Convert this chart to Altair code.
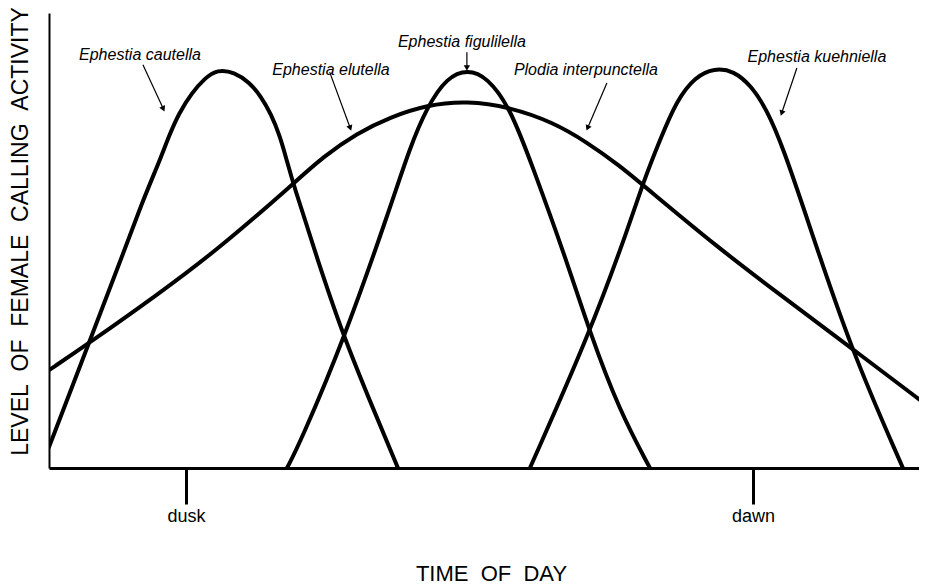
import math
import altair as alt
import pandas as pd

# ---- data (x: time of day, 0-100 scale; y: relative calling level, 0-100) ----
cautella_x = [0, 4.67, 7.74, 10.7, 12.5, 13.67, 14.8, 16.3, 17.7, 19.2, 21.1, 22.8, 24.1, 25.3, 26.3, 27.1, 27.8, 30.6, 33.5, 36.6, 39.75]
cautella_y = [4.6, 28.1, 43.5, 58.9, 67.0, 73.0, 78.0, 82.5, 85.6, 87.6, 87.0, 84.8, 81.8, 77.8, 73.0, 67.5, 62.6, 45.7, 29.2, 14.5, 0]

figulilella_x = [27.11, 28.59, 33.71, 38.84, 41.12, 43.05, 45.33, 47.72, 49.89, 52.51, 55.13, 58.8, 61.62, 65.0, 68.45]
figulilella_y = [0, 5.5, 28.8, 57.1, 70.5, 79.3, 85.9, 87.6, 85.9, 79.3, 66.0, 46.5, 29.7, 12.5, 0]

kuehniella_x = [54.78, 61.62, 66.17, 67.65, 69.59, 71.5, 73.6, 75.8, 78.0, 80.0, 81.78, 83.6, 86.33, 91.23, 97.27]
kuehniella_y = [0, 29.7, 53.8, 62.6, 72.1, 80.8, 86.0, 87.9, 87.3, 84.0, 78.7, 70.5, 55.0, 26.6, 0]

broad_x = [0, 4.67, 12.3, 19.48, 27.79, 31.21, 35.08, 38.84, 43.05, 47.61, 52.51, 57.4, 61.28, 65.03, 67.65, 76.08, 83.6, 91.23, 100]
broad_y = [21.5, 27.6, 38.0, 48.4, 62.4, 68.4, 73.6, 77.1, 79.8, 80.7, 79.3, 76.0, 71.6, 66.4, 62.2, 48.6, 37.6, 26.6, 13.8]

label_text = ["Ephestia cautella", "Ephestia elutella", "Ephestia figulilella",
              "Plodia interpunctella", "Ephestia kuehniella"]
label_x = [10.36, 32.12, 47.04, 61.16, 87.47]
label_y = [90.8, 87.5, 93.6, 87.5, 90.3]

arrow_x1 = [10.7, 31.97, 47.6, 63.55, 85.19]
arrow_y1 = [88.6, 87.0, 91.4, 84.6, 87.9]
arrow_x2 = [12.98, 34.28, 47.6, 61.39, 83.49]
arrow_y2 = [79.1, 74.9, 88.1, 74.9, 78.2]

tick_values = [15.6, 80.2]
tick_labels = ["dusk", "dawn"]

# ---- layout ----
W, H = 870, 455
XMAX = 99.1
YMAX = 100

rows = []
for name, xs, ys in [("cautella", cautella_x, cautella_y),
                     ("figulilella", figulilella_x, figulilella_y),
                     ("kuehniella", kuehniella_x, kuehniella_y),
                     ("elutella/interpunctella", broad_x, broad_y)]:
    for i, (x, y) in enumerate(zip(xs, ys)):
        rows.append({"series": name, "x": x, "y": y, "order": i})
curves = pd.DataFrame(rows)

labels = pd.DataFrame({"text": label_text, "x": label_x, "y": label_y})

pxx = W / XMAX
pxy = H / YMAX
angles = []
for x1, y1, x2, y2 in zip(arrow_x1, arrow_y1, arrow_x2, arrow_y2):
    dx = (x2 - x1) * pxx
    dy = -(y2 - y1) * pxy
    angles.append(math.degrees(math.atan2(dx, -dy)) % 360)
arrows = pd.DataFrame({"x": arrow_x1, "y": arrow_y1, "x2": arrow_x2, "y2": arrow_y2, "angle": angles})

xscale = alt.Scale(domain=[0, XMAX], nice=False, zero=False)
yscale = alt.Scale(domain=[0, YMAX], nice=False, zero=False)

label_expr = "datum.value < 50 ? '%s' : '%s'" % (tick_labels[0], tick_labels[1])

x_axis = alt.Axis(values=tick_values, labelExpr=label_expr, tickSize=36, tickWidth=3,
                  tickColor="black", domainColor="black", domainWidth=3, grid=False,
                  labelFont="Liberation Sans", labelFontSize=18, labelColor="black",
                  labelPadding=3,
                  title="TIME\u00a0\u00a0OF\u00a0\u00a0DAY", titleFont="Liberation Sans",
                  titleFontSize=22, titleFontWeight="normal", titleColor="black",
                  titleX=442, titleY=105, titleAlign="center", titleBaseline="middle")
y_axis = alt.Axis(values=[0], ticks=False, labels=False, domainColor="black", domainWidth=2, grid=False,
                  title="LEVEL\u00a0\u00a0OF\u00a0\u00a0FEMALE\u00a0\u00a0CALLING\u00a0\u00a0ACTIVITY",
                  titleFont="Liberation Sans",
                  titleFontSize=23, titleFontWeight="normal", titleColor="black",
                  titleAngle=270, titleX=-29, titleY=218, titleAlign="center", titleBaseline="middle")

lines = alt.Chart(curves).mark_line(color="black", strokeWidth=4, interpolate="basis",
                                    clip=True, strokeJoin="round", strokeCap="round").encode(
    x=alt.X("x:Q", scale=xscale, axis=x_axis),
    y=alt.Y("y:Q", scale=yscale, axis=y_axis),
    detail="series:N",
    order="order:Q",
)

text = alt.Chart(labels).mark_text(font="Liberation Sans", fontSize=16, fontStyle="italic",
                                   color="black", align="center", baseline="middle").encode(
    x=alt.X("x:Q", scale=xscale),
    y=alt.Y("y:Q", scale=yscale),
    text="text:N",
)

shafts = alt.Chart(arrows).mark_rule(color="black", strokeWidth=1.2).encode(
    x=alt.X("x:Q", scale=xscale),
    y=alt.Y("y:Q", scale=yscale),
    x2="x2:Q",
    y2="y2:Q",
)

heads = alt.Chart(arrows).mark_point(shape="triangle", filled=True, color="black", size=40, opacity=1).encode(
    x=alt.X("x2:Q", scale=xscale),
    y=alt.Y("y2:Q", scale=yscale),
    angle=alt.Angle("angle:Q", scale=None),
)

chart = alt.layer(lines, shafts, heads, text).properties(
    width=W, height=H,
    padding={"left": 41, "top": 5, "right": 0, "bottom": 118},
    autosize=alt.AutoSizeParams(type="none"),
    background="white",
).configure_view(strokeWidth=0)

chart.save("out.html", embed_options={"renderer": "svg", "actions": False})
